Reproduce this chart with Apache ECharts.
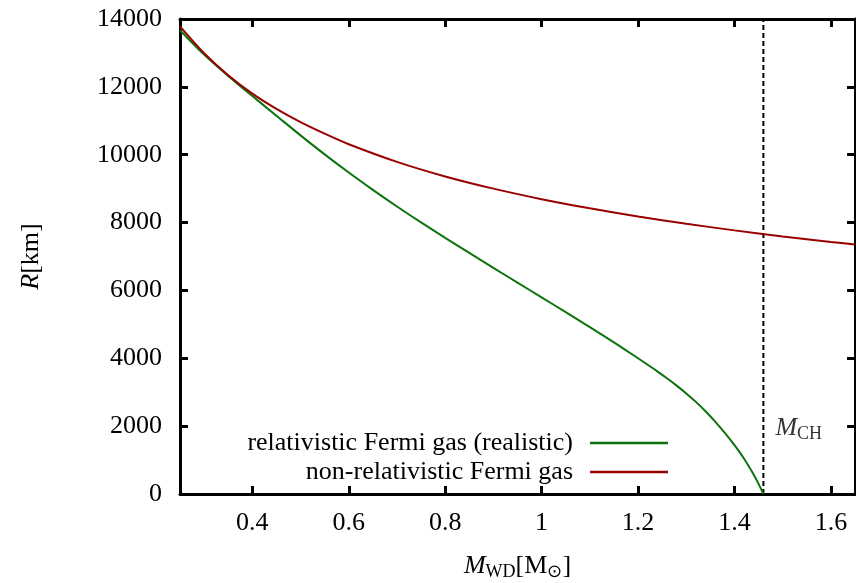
<!DOCTYPE html>
<html>
<head>
<meta charset="utf-8">
<script src="https://cdn.jsdelivr.net/npm/echarts@6/dist/echarts.min.js"></script>
<style>
  html, body { margin: 0; padding: 0; background: #ffffff; }
  #chart { width: 856px; height: 583px; }
</style>
</head>
<body>
<div id="chart"></div>
<script>
// White dwarf mass (solar masses) vs. radius (km)
const massNonRel = [0.25, 0.30, 0.35, 0.40, 0.45, 0.50, 0.55, 0.60, 0.70, 0.80, 0.90, 1.00, 1.10, 1.20, 1.30, 1.40, 1.50, 1.60, 1.65];
const radiusNonRel = [13780, 12990, 12340, 11800, 11350, 10960, 10620, 10310, 9790, 9360, 9000, 8690, 8420, 8180, 7965, 7770, 7590, 7430, 7355];

const massRel = [0.25, 0.30, 0.35, 0.40, 0.45, 0.50, 0.55, 0.60, 0.65, 0.70, 0.75, 0.80, 0.85, 0.90, 0.95, 1.00, 1.05, 1.10, 1.15, 1.20,
                 1.22, 1.24, 1.26, 1.28, 1.30, 1.32, 1.34, 1.36, 1.38, 1.40, 1.42, 1.44, 1.45, 1.46];
const radiusRel = [13670, 12950, 12320, 11730, 11150, 10570, 10010, 9475, 8965, 8475, 8005, 7550, 7105, 6665, 6230, 5795, 5360, 4920, 4470, 4000,
                   3810, 3615, 3410, 3195, 2965, 2715, 2440, 2135, 1800, 1440, 1040, 570, 300, 0];

// Chandrasekhar limit
const massCH = 1.46;
const labelCHRadius = 2000;

const xTicks = [0.4, 0.6, 0.8, 1, 1.2, 1.4, 1.6];
const yTicks = [0, 2000, 4000, 6000, 8000, 10000, 12000, 14000];

const seriesNames = ['relativistic Fermi gas (realistic)', 'non-relativistic Fermi gas'];
const seriesColors = ['#0d730d', '#990000'];

const FONT = '"Liberation Serif", "Times New Roman", serif';

const zip = (xs, ys) => xs.map((x, i) => [x, ys[i]]);

const frameLine = { show: true, onZero: false, lineStyle: { color: '#000', width: 3 } };
const innerTick = { show: true, inside: true, length: 8, lineStyle: { color: '#000', width: 3 } };

const chart = echarts.init(document.getElementById('chart'), null, { renderer: 'canvas' });

chart.setOption({
  backgroundColor: '#ffffff',
  animation: false,
  textStyle: { fontFamily: FONT, color: '#000' },
  grid: { left: 180, right: 1, top: 19, bottom: 89, containLabel: false, outerBoundsMode: 'none' },
  legend: {
    orient: 'vertical',
    align: 'right',
    right: 183,
    top: 425,
    itemGap: 3,
    itemWidth: 78,
    itemHeight: 2.5,
    icon: 'rect',
    data: seriesNames,
    textStyle: { fontFamily: FONT, fontSize: 26, color: '#000', padding: [0, 12, 0, 0] },
    selectedMode: false
  },
  xAxis: [
    {
      type: 'value', min: 0.25, max: 1.65, position: 'bottom',
      axisLine: frameLine,
      axisTick: Object.assign({ customValues: xTicks }, innerTick),
      axisLabel: { customValues: xTicks, fontFamily: FONT, fontSize: 26, color: '#000', margin: 16 },
      splitLine: { show: false },
      name: '{i|M}{sub|WD}[M{sub|⊙}]',
      nameLocation: 'middle',
      nameGap: 57,
      nameTextStyle: {
        fontFamily: FONT, fontSize: 26, color: '#000',
        rich: {
          i: { fontFamily: FONT, fontSize: 26, fontStyle: 'italic', color: '#000' },
          sub: { fontFamily: FONT, fontSize: 18, color: '#000', padding: [12, 0, 0, 0] }
        }
      }
    },
    {
      type: 'value', min: 0.25, max: 1.65, position: 'top',
      axisLine: frameLine,
      axisTick: Object.assign({ customValues: xTicks }, innerTick),
      axisLabel: { show: false },
      splitLine: { show: false }
    }
  ],
  yAxis: [
    {
      type: 'value', min: 0, max: 14000, interval: 2000, position: 'left',
      axisLine: frameLine,
      axisTick: Object.assign({ customValues: yTicks }, innerTick),
      axisLabel: { customValues: yTicks, formatter: v => String(v), fontFamily: FONT, fontSize: 26, color: '#000', margin: 18 },
      splitLine: { show: false },
      name: '{i|R}[km]',
      nameLocation: 'middle',
      nameGap: 136,
      nameRotate: 90,
      nameTextStyle: {
        fontFamily: FONT, fontSize: 26, color: '#000',
        rich: { i: { fontFamily: FONT, fontSize: 26, fontStyle: 'italic', color: '#000' } }
      }
    },
    {
      type: 'value', min: 0, max: 14000, interval: 2000, position: 'right',
      axisLine: frameLine,
      axisTick: Object.assign({ customValues: yTicks }, innerTick),
      axisLabel: { show: false },
      splitLine: { show: false }
    }
  ],
  series: [
    {
      name: seriesNames[0], type: 'line', xAxisIndex: 0, yAxisIndex: 0,
      data: zip(massRel, radiusRel),
      showSymbol: false, smooth: 0.3,
      lineStyle: { color: seriesColors[0], width: 2 },
      itemStyle: { color: seriesColors[0] },
      z: 3
    },
    {
      name: seriesNames[1], type: 'line', xAxisIndex: 0, yAxisIndex: 0,
      data: zip(massNonRel, radiusNonRel),
      showSymbol: false, smooth: 0.3,
      lineStyle: { color: seriesColors[1], width: 2 },
      itemStyle: { color: seriesColors[1] },
      z: 3
    },
    {
      // dashed vertical line at the Chandrasekhar mass
      name: 'M_CH', type: 'line', xAxisIndex: 0, yAxisIndex: 0,
      data: [[massCH, 0], [massCH, 14000]],
      showSymbol: false,
      lineStyle: { color: '#000', width: 2, type: [5, 3] },
      z: 2
    },
    {
      name: 'M_CH label', type: 'scatter', xAxisIndex: 0, yAxisIndex: 0,
      data: [[massCH, labelCHRadius]],
      symbolSize: 0,
      itemStyle: { color: '#000' },
      label: {
        show: true, position: 'right', distance: 12, offset: [0, 2],
        color: '#000',
        formatter: '{i|M}{sub|CH}',
        rich: {
          i: { fontFamily: FONT, fontSize: 26, fontStyle: 'italic', color: '#000' },
          sub: { fontFamily: FONT, fontSize: 18, color: '#000', padding: [12, 0, 0, 0] }
        }
      },
      emphasis: { disabled: true },
      silent: true
    }
  ]
});
</script>
</body>
</html>
